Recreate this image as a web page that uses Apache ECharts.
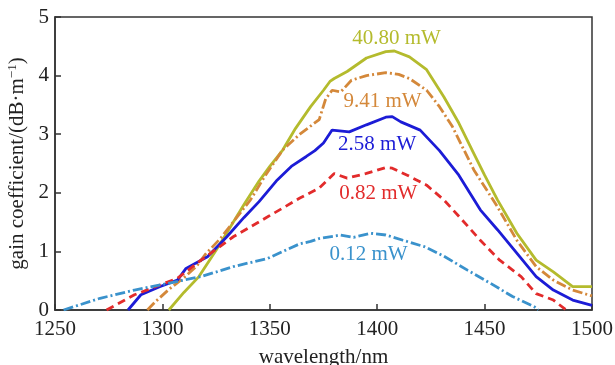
<!DOCTYPE html>
<html>
<head>
<meta charset="utf-8">
<script src="https://cdn.jsdelivr.net/npm/echarts@6/dist/echarts.min.js"></script>
<style>
html,body{margin:0;padding:0;background:#fff}
#chart{width:615px;height:365px}
</style>
</head>
<body>
<div id="chart"></div>
<script>
// wavelength (nm), gain (dB/m) pairs
const p4080 = [[1303,0],[1310,0.3],[1317,0.57],[1325,1.02],[1330,1.32],[1338,1.8],[1345,2.2],[1350,2.45],[1356,2.73],[1362,3.1],[1369,3.47],[1375,3.75],[1378,3.9],[1380,3.95],[1386,4.07],[1395,4.3],[1404,4.41],[1408,4.42],[1415,4.32],[1423,4.1],[1431,3.64],[1438,3.19],[1445,2.67],[1450,2.3],[1456,1.88],[1465,1.31],[1474,0.85],[1482,0.65],[1491,0.4],[1500,0.4]]
const p941 = [[1293,0],[1297,0.15],[1303,0.35],[1310,0.55],[1316,0.75],[1320,0.95],[1327,1.22],[1334,1.55],[1341,1.88],[1348,2.3],[1356,2.73],[1364,3.0],[1373,3.25],[1376,3.6],[1379,3.75],[1383,3.72],[1388,3.92],[1395,4.0],[1404,4.05],[1410,4.02],[1415,3.95],[1423,3.75],[1429,3.47],[1435,3.13],[1445,2.39],[1456,1.76],[1465,1.19],[1474,0.74],[1482,0.51],[1491,0.34],[1500,0.24]]
const p258 = [[1284,0],[1290,0.26],[1299,0.4],[1307,0.51],[1311,0.71],[1321,0.91],[1330,1.25],[1338,1.58],[1345,1.85],[1353,2.2],[1360,2.45],[1367,2.62],[1371,2.72],[1375,2.85],[1379,3.07],[1387,3.04],[1395,3.16],[1404,3.29],[1407,3.3],[1411,3.21],[1420,3.07],[1429,2.72],[1438,2.3],[1448,1.71],[1456,1.37],[1465,0.97],[1474,0.57],[1482,0.34],[1491,0.17],[1500,0.08]]
const p082 = [[1274,0],[1287,0.26],[1297,0.4],[1307,0.54],[1318,0.85],[1333,1.25],[1349,1.59],[1364,1.91],[1373,2.08],[1380,2.33],[1386,2.25],[1395,2.33],[1404,2.43],[1407,2.42],[1414,2.3],[1423,2.13],[1431,1.88],[1438,1.6],[1448,1.19],[1457,0.85],[1467,0.57],[1474,0.28],[1482,0.17],[1488,0]]
const p012 = [[1254,0],[1271,0.2],[1287,0.34],[1302,0.45],[1318,0.57],[1333,0.74],[1349,0.88],[1364,1.13],[1369,1.17],[1373,1.22],[1383,1.28],[1389,1.24],[1397,1.31],[1404,1.28],[1412,1.19],[1422,1.08],[1431,0.92],[1442,0.68],[1453,0.45],[1463,0.23],[1473,0.06],[1475,0]]

const names = ['40.80 mW','9.41 mW','2.58 mW','0.82 mW','0.12 mW']
const labelAt = [[1409,4.63],[1402.5,3.56],[1400,2.82],[1400.5,1.99],[1396,0.95]]

const colors = ['#b4bb2d','#d4883a','#1c1cd6','#e22b2b','#3a92cc']
const dashes = ['solid',[10,3,2,3],'solid',[8,5],[10,3,2,3]]
const curves = [p4080,p941,p258,p082,p012]

const font = 'Liberation Serif'
const chart = echarts.init(document.getElementById('chart'))

const series = curves.map((d,i)=>({
  name: names[i],
  type: 'line',
  data: d,
  symbol: 'none',
  lineStyle: {color: colors[i], width: 2.8, type: dashes[i]},
  markPoint: {
    symbol: 'circle', symbolSize: 0,
    data: [{coord: labelAt[i]}],
    label: {show: true, position: 'inside', formatter: names[i], color: colors[i], fontFamily: font, fontSize: 21}
  }
}))

chart.setOption({
  animation: false,
  grid: {left: 55, right: 23, top: 17, bottom: 55, show: true, borderColor: '#333', borderWidth: 1.5,
    containLabel: false, outerBoundsMode: 'none'},
  xAxis: {
    type: 'value', min: 1250, max: 1500, interval: 50,
    name: 'wavelength/nm', nameLocation: 'middle', nameGap: 37,
    nameTextStyle: {fontFamily: font, fontSize: 21, color: '#222'},
    axisLine: {lineStyle: {color: '#333', width: 1.5}},
    axisTick: {inside: true, length: 6, lineStyle: {color: '#333', width: 1.5}},
    axisLabel: {fontFamily: font, fontSize: 21, color: '#222', margin: 9, formatter: v => String(v)},
    splitLine: {show: false}
  },
  yAxis: {
    type: 'value', min: 0, max: 5, interval: 1,
    name: 'gain coefficient/(dB·m{s|−1})', nameLocation: 'middle', nameGap: 24,
    nameTextStyle: {fontFamily: font, fontSize: 21, color: '#222',
      rich: {s: {fontFamily: font, fontSize: 13, color: '#222', padding: [0,0,10,0]}}},
    axisLine: {lineStyle: {color: '#333', width: 1.5}},
    axisTick: {inside: true, length: 6, lineStyle: {color: '#333', width: 1.5}},
    axisLabel: {fontFamily: font, fontSize: 21, color: '#222', margin: 6},
    splitLine: {show: false}
  },
  series: series
})
</script>
</body>
</html>
